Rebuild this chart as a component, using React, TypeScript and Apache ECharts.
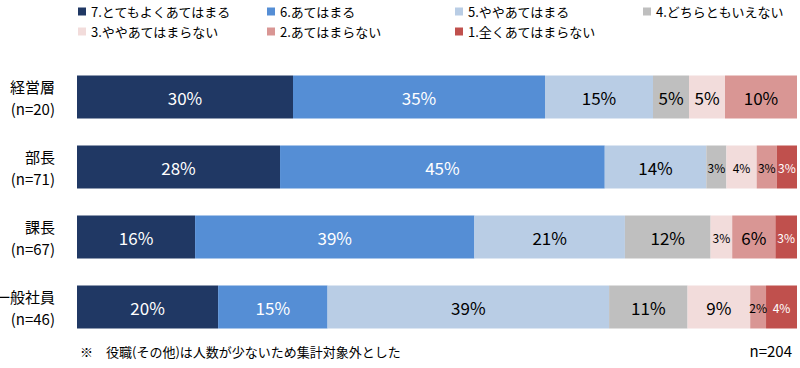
import React, { useEffect, useRef } from "react";
import * as echarts from "echarts";

const categories = ["経営層\n(n=20)", "部長\n(n=71)", "課長\n(n=67)", "一般社員\n(n=46)"];
const seriesNames = [
  "7.とてもよくあてはまる",
  "6.あてはまる",
  "5.ややあてはまる",
  "4.どちらともいえない",
  "3.ややあてはまらない",
  "2.あてはまらない",
  "1.全くあてはまらない",
];
const s7 = [30, 28.2, 16.4, 19.6];
const s6 = [35, 45.1, 38.8, 15.2];
const s5 = [15, 14.1, 20.9, 39.1];
const s4 = [5, 2.8, 11.9, 10.9];
const s3 = [5, 4.2, 3.0, 8.7];
const s2 = [10, 2.8, 6.0, 2.2];
const s1 = [0, 2.8, 3.0, 4.3];
const seriesValues = [s7, s6, s5, s4, s3, s2, s1];
const colors = ["#203864", "#558ED5", "#B9CDE5", "#BFBFBF", "#F2DCDB", "#D99694", "#C0504D"];
const labelColors = ["#ffffff", "#ffffff", "#000000", "#000000", "#000000", "#000000", "#ffffff"];
const footnote = "※　役職(その他)は人数が少ないため集計対象外とした";
const totalN = "n=204";

const FONT = "'Noto Sans CJK JP', 'Noto Sans', sans-serif";

export default function App() {
  const ref = useRef<HTMLDivElement>(null);
  useEffect(() => {
    if (!ref.current) return;
    const chart = echarts.init(ref.current, null, { renderer: "svg" });
    const legendPos = [
      [78, 5], [267, 5], [455, 5], [643, 5],
      [78, 25], [267, 25], [455, 25],
    ];
    chart.setOption({
      animation: false,
      textStyle: { fontFamily: FONT },
      legend: seriesNames.map((n, i) => ({
        data: [n],
        left: legendPos[i][0],
        top: legendPos[i][1],
        itemWidth: 8,
        itemHeight: 8,
        icon: "rect",
        padding: 0,
        textStyle: { fontSize: 13, color: "#000", fontFamily: FONT },
        selectedMode: false,
      })),
      grid: {
        left: 77,
        right: 3,
        top: 62,
        height: 280,
        containLabel: false,
        outerBoundsMode: "none",
      },
      xAxis: { type: "value", min: 0, max: 100, show: false },
      yAxis: {
        type: "category",
        data: categories,
        inverse: true,
        axisLine: { show: false },
        axisTick: { show: false },
        axisLabel: {
          fontSize: 15,
          lineHeight: 22,
          color: "#000",
          align: "right",
          margin: 22,
          fontFamily: FONT,
        },
      },
      series: seriesNames.map((n, i) => ({
        name: n,
        type: "bar",
        stack: "total",
        barWidth: 43,
        itemStyle: { color: colors[i] },
        data: seriesValues[i].map((v) => ({
          value: v,
          label: { fontSize: v < 4.5 ? 12 : 17 },
        })),
        label: {
          show: true,
          position: "inside",
          color: labelColors[i],
          fontFamily: FONT,
          formatter: (p: any) => (p.value > 0 ? Math.round(p.value) + "%" : ""),
        },
      })),
      graphic: [
        {
          type: "text",
          left: 80,
          top: 345,
          style: { text: footnote, fontSize: 13, fill: "#000", fontFamily: FONT },
        },
        {
          type: "text",
          right: 8,
          top: 343,
          style: { text: totalN, fontSize: 15, fill: "#000", fontFamily: FONT },
        },
      ],
    });
    return () => chart.dispose();
  }, []);
  return (
    <div
      ref={ref}
      style={{ position: "fixed", left: 0, top: 0, width: 800, height: 368, background: "#fff" }}
    />
  );
}
